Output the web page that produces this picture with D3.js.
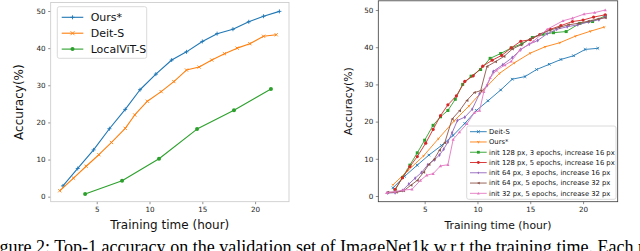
<!DOCTYPE html>
<html>
<head>
<meta charset="utf-8">
<script src="https://cdn.jsdelivr.net/npm/d3@7"></script>
<style>
  body { margin: 0; background: #fff; }
  svg { display: block; }
</style>
</head>
<body>
<div id="chart"></div>
<script>

// ---- left panel data ----
var leftOursX = [1.8, 3.2, 4.7, 6.2, 7.7, 9.1, 10.6, 12.1, 13.5, 15.0, 16.4, 17.9, 19.4, 20.8, 22.3];
var leftOursY = [2.9, 7.6, 12.6, 18.3, 23.5, 28.8, 33.0, 36.8, 39.0, 41.8, 43.9, 45.1, 47.1, 48.6, 49.9];
var leftDeitX = [1.5, 2.8, 4.0, 5.2, 6.4, 7.7, 8.6, 9.8, 11.1, 12.3, 13.5, 14.7, 15.9, 17.1, 18.3, 19.5, 20.8, 22.0];
var leftDeitY = [1.6, 5.0, 8.2, 11.3, 14.6, 18.4, 22.0, 25.7, 28.3, 31.0, 34.1, 34.9, 36.8, 38.5, 40.0, 41.2, 43.2, 43.6];
var leftLocalX = [3.9, 7.4, 10.9, 14.5, 18.0, 21.5];
var leftLocalY = [0.7, 4.3, 10.2, 18.2, 23.3, 29.0];

// ---- right panel data ----
var rightDeitX = [2.0, 3.1, 4.3, 5.4, 6.6, 7.7, 8.8, 9.9, 11.0, 12.2, 13.3, 14.5, 15.6, 16.8, 17.9, 19.1, 20.2, 21.4];
var rightDeitY = [2.2, 5.3, 8.3, 11.0, 13.6, 16.3, 19.5, 23.0, 25.6, 28.5, 31.4, 32.1, 34.0, 35.4, 36.7, 37.7, 39.4, 39.7];
var rightOursX = [2.0, 3.4, 4.9, 6.3, 7.8, 9.2, 10.6, 12.1, 13.5, 15.0, 16.4, 17.8, 19.3, 20.7, 22.0];
var rightOursY = [3.0, 6.8, 10.8, 15.4, 20.2, 24.2, 28.6, 33.0, 35.8, 38.4, 40.1, 41.2, 43.0, 44.3, 45.4];
var init128e3X = [2.2, 2.9, 3.6, 4.3, 5.0, 5.8, 6.5, 7.2, 7.9, 8.6, 9.4, 10.3, 11.2, 12.2, 13.2, 14.2, 15.2, 16.2, 17.2, 18.4, 19.7, 20.9, 22.1];
var init128e3Y = [1.6, 5.0, 8.3, 11.6, 15.0, 19.0, 21.3, 23.0, 26.0, 30.0, 32.2, 34.0, 37.0, 38.3, 39.8, 40.9, 42.6, 43.5, 43.9, 44.2, 46.4, 46.9, 48.4];
var init128e5X = [2.2, 2.9, 3.6, 4.3, 5.1, 5.8, 6.5, 7.2, 8.0, 8.8, 9.6, 10.5, 11.4, 12.3, 13.2, 14.1, 15.0, 15.9, 16.9, 17.9, 19.0, 20.0, 21.0, 22.1];
var init128e5Y = [1.8, 4.9, 7.9, 10.6, 14.2, 17.9, 21.6, 24.5, 26.9, 30.8, 32.3, 34.9, 36.5, 37.8, 39.8, 41.6, 42.0, 43.4, 44.8, 45.8, 46.9, 47.3, 48.1, 48.7];
var init64e3X = [1.5, 2.2, 2.9, 3.5, 4.1, 4.7, 5.3, 5.9, 6.4, 6.8, 7.2, 7.6, 8.1, 8.8, 9.5, 10.2, 10.9, 11.5, 12.4, 13.3, 14.1, 14.9, 15.7, 16.6, 17.5, 18.5, 19.5, 20.5, 21.5, 22.1];
var init64e3Y = [0.8, 0.9, 1.5, 3.2, 4.8, 6.3, 8.4, 9.7, 11.0, 12.6, 14.5, 17.0, 20.3, 21.2, 23.3, 27.5, 29.7, 33.5, 35.3, 37.2, 39.4, 40.8, 41.8, 43.6, 44.8, 45.5, 46.0, 46.8, 47.4, 48.1];
var init64e5X = [1.5, 2.3, 3.0, 3.7, 4.3, 4.9, 5.4, 5.9, 6.4, 6.9, 7.6, 8.3, 9.0, 9.7, 10.3, 10.9, 11.7, 12.5, 13.3, 14.1, 15.0, 15.9, 16.8, 17.7, 18.6, 19.5, 20.5, 21.4, 22.1];
var init64e5Y = [1.0, 1.0, 1.4, 2.9, 4.2, 6.4, 8.5, 9.9, 12.3, 14.3, 20.7, 22.9, 25.7, 27.8, 28.3, 34.8, 36.1, 37.5, 39.5, 40.6, 42.3, 43.4, 44.5, 45.3, 46.0, 46.4, 47.0, 47.6, 47.9];
var init32e5X = [1.4, 2.2, 3.0, 3.8, 4.6, 5.2, 5.8, 6.5, 7.2, 7.7, 8.3, 9.0, 9.7, 10.2, 10.6, 11.2, 11.8, 12.6, 13.2, 14.0, 15.3, 16.6, 18.1, 19.0, 20.1, 21.1, 22.1];
var init32e5Y = [0.9, 1.2, 1.6, 1.8, 4.2, 5.6, 6.0, 8.1, 8.4, 15.2, 17.2, 19.4, 22.4, 23.0, 28.0, 31.8, 33.8, 35.2, 36.2, 39.2, 41.6, 44.8, 47.1, 47.8, 48.9, 49.3, 50.0];

var xTicks = [5, 10, 15, 20];
var yTicks = [0, 10, 20, 30, 40, 50];
var leftNames = ["Ours*", "Deit-S", "LocalViT-S"];
var rightNames = ["Deit-S", "Ours*", "init 128 px, 3 epochs, increase 16 px", "init 128 px, 5 epochs, increase 16 px",
                  "init 64 px, 3 epochs, increase 16 px", "init 64 px, 5 epochs, increase 32 px", "init 32 px, 5 epochs, increase 32 px"];
var captionText = "Figure 2: Top-1 accuracy on the validation set of ImageNet1k w.r.t the training time. Each model";

var C = {blue: "#1f77b4", orange: "#ff7f0e", green: "#2ca02c", red: "#d62728",
         purple: "#9467bd", brown: "#8c564b", pink: "#e377c2"};
var FONT = "'DejaVu Sans', sans-serif";

var W = 640, H = 251;
var svg = d3.select("#chart").append("svg").attr("width", W).attr("height", H);

function zip(xs, ys) {
    var out = [];
    for (var i = 0; i < xs.length; i++) out.push([xs[i], ys[i]]);
    return out;
}

// draw one marker at (cx,cy)
function marker(g, shape, cx, cy, s, color) {
    var p;
    if (shape == "plus") {
        g.append("path").attr("d", "M" + (cx - s) + "," + cy + "H" + (cx + s) + "M" + cx + "," + (cy - s) + "V" + (cy + s))
            .attr("stroke", color).attr("stroke-width", 0.9).attr("fill", "none");
    } else if (shape == "x") {
        g.append("path").attr("d", "M" + (cx - s) + "," + (cy - s) + "L" + (cx + s) + "," + (cy + s) + "M" + (cx - s) + "," + (cy + s) + "L" + (cx + s) + "," + (cy - s))
            .attr("stroke", color).attr("stroke-width", 0.9).attr("fill", "none");
    } else if (shape == "tri1") {
        g.append("path").attr("d", "M" + cx + "," + cy + "V" + (cy + s) + "M" + cx + "," + cy + "L" + (cx - s * 0.87) + "," + (cy - s * 0.5) + "M" + cx + "," + cy + "L" + (cx + s * 0.87) + "," + (cy - s * 0.5))
            .attr("stroke", color).attr("stroke-width", 0.8).attr("fill", "none");
    } else if (shape == "circle") {
        g.append("circle").attr("cx", cx).attr("cy", cy).attr("r", s).attr("fill", color);
    } else if (shape == "square") {
        g.append("rect").attr("x", cx - s).attr("y", cy - s).attr("width", 2 * s).attr("height", 2 * s).attr("fill", color);
    } else if (shape == "thindiamond") {
        p = "M" + cx + "," + (cy - s) + "L" + (cx + s * 0.6) + "," + cy + "L" + cx + "," + (cy + s) + "L" + (cx - s * 0.6) + "," + cy + "Z";
        g.append("path").attr("d", p).attr("fill", color);
    } else if (shape == "triLeft") {
        p = "M" + (cx - s) + "," + cy + "L" + (cx + s) + "," + (cy - s) + "L" + (cx + s) + "," + (cy + s) + "Z";
        g.append("path").attr("d", p).attr("fill", color);
    } else if (shape == "triUp") {
        p = "M" + cx + "," + (cy - s) + "L" + (cx + s) + "," + (cy + s * 0.8) + "L" + (cx - s) + "," + (cy + s * 0.8) + "Z";
        g.append("path").attr("d", p).attr("fill", color);
    }
}

function Panel(box, xDom, yDom, frameColor) {
    this.x = d3.scaleLinear().domain(xDom).range([box.left, box.right]);
    this.y = d3.scaleLinear().domain(yDom).range([box.bottom, box.top]);
    this.g = svg.append("g");
    var self = this;

    this.axes = function (tickFs) {
        var ax = this.g.append("g").attr("transform", "translate(0," + box.bottom + ")")
            .call(d3.axisBottom(this.x).tickValues(xTicks).tickSize(2.5).tickPadding(3));
        var ay = this.g.append("g").attr("transform", "translate(" + box.left + ",0)")
            .call(d3.axisLeft(this.y).tickValues(yTicks).tickSize(2.5).tickPadding(2.5));
        [ax, ay].forEach(function (a) {
            a.select(".domain").remove();
            a.selectAll("line").attr("stroke", "#444").attr("stroke-width", 0.6);
            a.selectAll("text").attr("font-family", FONT).attr("font-size", tickFs).attr("fill", "#222");
        });
        this.g.append("rect").attr("x", box.left).attr("y", box.top)
            .attr("width", box.right - box.left).attr("height", box.bottom - box.top)
            .attr("fill", "none").attr("stroke", frameColor).attr("stroke-width", 0.8);
    };

    this.series = function (xs, ys, color, shape, s, lw) {
        var pts = zip(xs, ys);
        var line = d3.line().x(function (d) { return self.x(d[0]); }).y(function (d) { return self.y(d[1]); });
        this.g.append("path").datum(pts).attr("d", line)
            .attr("fill", "none").attr("stroke", color).attr("stroke-width", lw).attr("stroke-linejoin", "round");
        pts.forEach(function (d) { marker(self.g, shape, self.x(d[0]), self.y(d[1]), s, color); });
    };

    this.labels = function (fs, yLabX, xLabY) {
        this.g.append("text").text("Accuracy(%)")
            .attr("transform", "translate(" + yLabX + "," + ((box.top + box.bottom) / 2) + ") rotate(-90)")
            .attr("text-anchor", "middle").attr("font-family", FONT).attr("font-size", fs).attr("fill", "#111");
        this.g.append("text").text("Training time (hour)")
            .attr("x", (box.left + box.right) / 2).attr("y", xLabY)
            .attr("text-anchor", "middle").attr("font-family", FONT).attr("font-size", fs).attr("fill", "#111");
    };
    return this;
}

function legend(g, lx, ly, lw, lh, rows, rowY0, rowGap, hx0, hx1, tx, fs, ms) {
    g.append("rect").attr("x", lx).attr("y", ly).attr("width", lw).attr("height", lh).attr("rx", 2)
        .attr("fill", "#fff").attr("fill-opacity", 0.85).attr("stroke", "#d0d0d0").attr("stroke-width", 0.8);
    rows.forEach(function (r, i) {
        var yy = rowY0 + i * rowGap;
        g.append("line").attr("x1", hx0).attr("x2", hx1).attr("y1", yy).attr("y2", yy)
            .attr("stroke", r.color).attr("stroke-width", r.lw);
        marker(g, r.shape, (hx0 + hx1) / 2, yy, ms, r.color);
        g.append("text").text(r.name).attr("x", tx).attr("y", yy).attr("dy", "0.35em")
            .attr("font-family", FONT).attr("font-size", fs).attr("fill", "#111");
    });
}

// ---- left panel ----
var left = new Panel({left: 50.7, right: 289, top: 2.5, bottom: 201.7}, [0.64, 23.21], [-1.35, 52.29], "#c8c8c8");
left.axes(7.2);
left.series(leftOursX, leftOursY, C.blue, "plus", 2, 1.1);
left.series(leftDeitX, leftDeitY, C.orange, "x", 1.6, 1.1);
left.series(leftLocalX, leftLocalY, C.green, "circle", 2, 1.1);
left.labels(12, 23, 229);
legend(left.g, 57.3, 6.7, 89.4, 51.6,
    [{name: leftNames[0], color: C.blue, shape: "plus", lw: 1.1},
     {name: leftNames[1], color: C.orange, shape: "x", lw: 1.1},
     {name: leftNames[2], color: C.green, shape: "circle", lw: 1.1}],
    17.3, 15.9, 61.7, 83.3, 90.7, 11, 2);

// ---- right panel ----
var right = new Panel({left: 378.3, right: 617.7, top: 0.8, bottom: 201.7}, [0.61, 23.28], [-1.53, 52.47], "#3a3a3a");
right.axes(7.2);
right.series(rightDeitX, rightDeitY, C.blue, "x", 1.3, 0.9);
right.series(rightOursX, rightOursY, C.orange, "tri1", 1.4, 0.9);
right.series(init128e3X, init128e3Y, C.green, "square", 1.5, 0.9);
right.series(init128e5X, init128e5Y, C.red, "circle", 1.6, 0.9);
right.series(init64e3X, init64e3Y, C.purple, "thindiamond", 2, 0.9);
right.series(init64e5X, init64e5Y, C.brown, "triLeft", 1.5, 0.9);
right.series(init32e5X, init32e5Y, C.pink, "triUp", 1.6, 0.9);
right.labels(10.8, 352, 229);
var rShapes = ["x", "tri1", "square", "circle", "thindiamond", "triLeft", "triUp"];
var rColors = [C.blue, C.orange, C.green, C.red, C.purple, C.brown, C.pink];
legend(right.g, 466.7, 126, 149.3, 73.3,
    rightNames.map(function (n, i) { return {name: n, color: rColors[i], shape: rShapes[i], lw: 0.9}; }),
    131.7, 10.27, 470, 486.7, 489, 6.8, 1.4);

// ---- caption (serif, clipped by the page edges like the source crop) ----
var cap = svg.append("text").text(captionText).attr("font-family", "'Liberation Serif', 'DejaVu Serif', serif")
    .attr("font-size", 15).attr("fill", "#000");
function textW(str, fs) {
    var t = svg.append("text").text(str).attr("font-family", "'Liberation Serif', serif").attr("font-size", fs);
    var w = t.node().getComputedTextLength();
    t.remove();
    return w;
}
var capFs = 15 * 580 / textW("Top-1 accuracy on the validation set of ImageNet1k w.r.t the training time. Each ", 15);
cap.attr("font-size", capFs).attr("y", 253).attr("x", 50 - textW("Figure 2: ", capFs));

</script>
</body>
</html>
